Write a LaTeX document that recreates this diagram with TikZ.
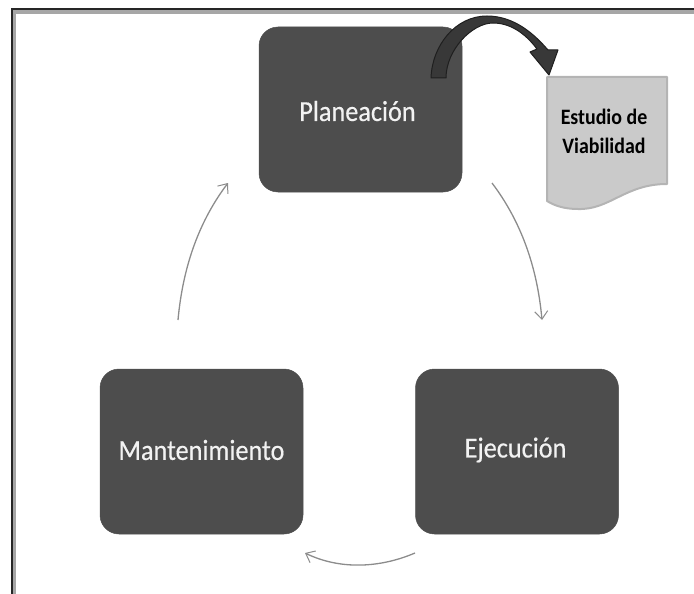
\documentclass[tikz,border=0pt]{standalone}
\usepackage{fontspec}
\setmainfont{Carlito}
\newfontfamily\narrowfont[FakeStretch=0.905]{Carlito}
\newfontfamily\stagefont[FakeStretch=0.905,FakeBold=0.4]{Carlito}
\usetikzlibrary{arrows.meta}
\definecolor{boxgray}{HTML}{4D4D4D}
\definecolor{docgray}{HTML}{CACACA}
\definecolor{docedge}{HTML}{B4B4B4}
\definecolor{linegray}{HTML}{8C8C8C}
\tikzset{
  stagebox/.style={draw=boxgray,fill=boxgray,rounded corners=19pt,minimum width=203pt,minimum height=165pt,inner sep=0pt,line width=0.5pt},
  stagelabel/.style={text=white!95!black,font=\stagefont\fontsize{29}{32}\selectfont,inner sep=0pt},
  cycleline/.style={draw=linegray,line width=1.3pt,-{Straight Barb[length=8pt,width=13pt,line width=1pt]}},
  frameouter/.style={draw=black!85,line width=2pt},
  frameinner/.style={draw=black!35,line width=3.5pt},
  doclabel/.style={font=\narrowfont\bfseries\fontsize{22}{29}\selectfont,align=center,text=black,inner sep=0pt}
}
\begin{document}
\begin{tikzpicture}[x=1pt,y=-1pt]
\useasboundingbox (0,0) rectangle (694,594);
\coordinate (innerTL) at (14.5,12);
\coordinate (innerTR) at (694,12);
\coordinate (innerBL) at (14.5,594);
\coordinate (frameTL) at (11.5,9);
\coordinate (frameTR) at (694,9);
\coordinate (frameBL) at (11.5,594);
\draw[frameinner] (innerBL) -- (innerTL) -- (innerTR);
\draw[frameouter] (frameBL) -- (frameTL) -- (frameTR);
\node[stagebox] (plan) at (360.5,109.5) {};
\node[stagebox] (mant) at (201.5,451.5) {};
\node[stagebox] (ejec) at (517,451.5) {};
\node[stagelabel] (planL) at (357.5,111) {Planeación};
\node[stagelabel] (mantL) at (201.5,450) {Mantenimiento};
\node[stagelabel] (ejecL) at (515.5,450) {Ejecución};
% document
\path[fill=docgray,draw=docedge,line width=2pt,line join=round]
  (547,77) -- (667,77) -- (667,184)
  .. controls (625,184) and (610,210) .. (578,209)
  .. controls (565,209) and (555,206) .. (547,201) -- cycle;
\node[doclabel] (doc) at (604,131) {Estudio de\\Viabilidad};
% cycle arrows
\coordinate (a1s) at (492,183);
\coordinate (a1e) at (542,320);
\coordinate (a2s) at (415,553);
\coordinate (a2e) at (305,553);
\coordinate (a3s) at (178,320);
\coordinate (a3e) at (228,183);
\draw[cycleline] (a1s) .. controls (520,220) and (537,265) .. (a1e);
\draw[cycleline] (a2s) .. controls (380,568) and (340,570) .. (a2e);
\draw[cycleline] (a3s) .. controls (183,265) and (200,220) .. (a3e);
% bent arrow
\path[fill=black!78,draw=black!88,line width=1pt,line join=round]
  (431,78) .. controls (432,46) and (455,16) .. (487,16)
  .. controls (515,16) and (535,35) .. (548,50)
  -- (558,50) -- (549,75) -- (530,52) -- (537,49)
  .. controls (525,33) and (510,23) .. (493,23)
  .. controls (472,23) and (446,50) .. (446,78) -- cycle;
\end{tikzpicture}
\end{document}
